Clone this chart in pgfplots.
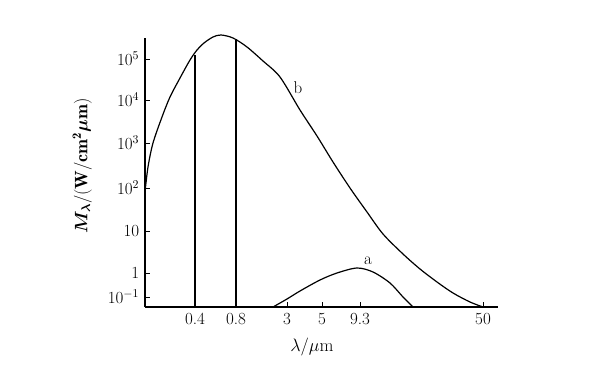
\RequirePackage{fix-cm}
\documentclass[border=0pt]{standalone}
\usepackage{fontspec}
\usepackage{bm}
\usepackage{pgfplots}
\pgfplotsset{compat=1.18}
\begin{document}
\fontsize{17}{20}\selectfont
\begin{tikzpicture}[font=\fontsize{17}{20}\selectfont]
\begin{axis}[
  x=1pt, y=1pt,
  xmin=145, xmax=498, ymin=58, ymax=327,
  axis x line=bottom, axis y line=left,
  axis line style={-, line width=1.1pt},
  clip=false,
  tick align=inside,
  major tick length=5pt,
  tick style={line width=1pt, black},
  xtick={195,236,287,322,360,483},
  xticklabels={0.4,0.8,3,5,9.3,50},
  ytick={68,92,134,177,222,265,306},
  yticklabels={$10^{-1}$,$1$,$10$,$10^2$,$10^3$,$10^4$,$10^5$},
  tick label style={font=\fontsize{17}{20}\selectfont},
  xlabel={$\lambda/\mu$m},
  ylabel={$\bm{M}_{\bm{\lambda}}/(\mathbf{W/cm^2}\bm{\mu}\mathbf{m})$},
  label style={font=\fontsize{18}{22}\selectfont},
  xlabel style={at={(axis description cs:0.473,-0.149)}, anchor=center},
  ylabel style={at={(axis description cs:-0.178,0.524)}, anchor=center},
]
\path (axis cs:0,0) rectangle (axis cs:594,365);
% curve b
\addplot[black, line width=1.2pt, smooth, tension=0.5] coordinates {
(145,173) (148,198) (153,222) (162,248) (170,268) (180,287) (190,305)
(197,315) (204,322) (213,328) (221,330) (233,327) (247,318) (263,304)
(280,288) (300,255) (317,229) (333,203) (350,177) (367,153)
(383,131) (403,111) (420,96) (437,83) (453,72) (470,63) (483,58)};
% curve a
\addplot[black, line width=1.2pt, smooth, tension=0.5] coordinates {
(273,58) (287,66) (300,74) (320,85) (337,92) (357,97) (373,93)
(390,82) (403,68) (413,58)};
% vertical lines
\addplot[black, line width=1.1pt] coordinates {(195,58) (195,310)};
\addplot[black, line width=1.1pt] coordinates {(236,58) (236,326)};
\node at (axis cs:368,104) {a};
\node at (axis cs:298,277) {b};
\end{axis}
\end{tikzpicture}
\end{document}
